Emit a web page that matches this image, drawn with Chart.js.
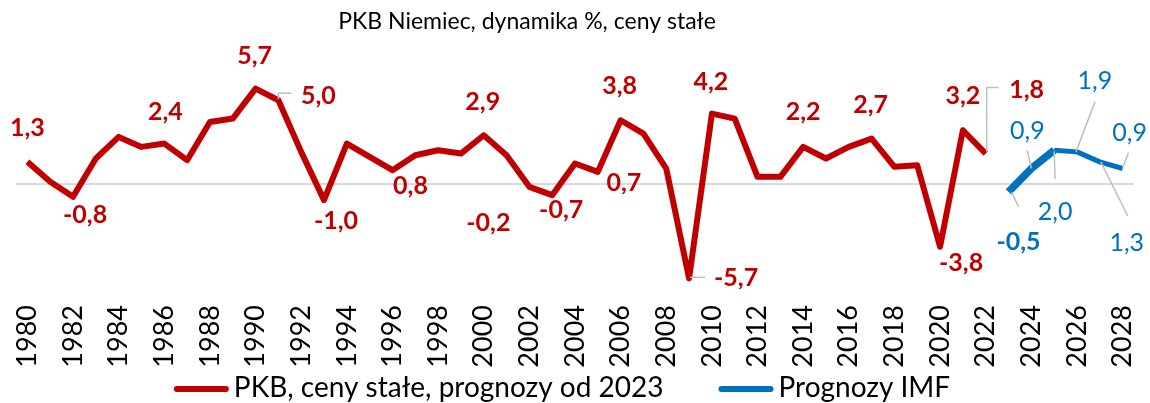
<!DOCTYPE html>
<html>
<head>
<meta charset="utf-8">
<script src="https://cdn.jsdelivr.net/npm/chart.js@4/dist/chart.umd.min.js"></script>
<style>
  html, body { margin: 0; padding: 0; background: #fff; }
  #wrap { width: 1150px; height: 403px; }
</style>
</head>
<body>
<div id="wrap"><canvas id="gdpChart"></canvas></div>
<script>
// years on the category axis
const years = [];
for (let y = 1980; y <= 2028; y++) years.push(String(y));

// PKB Niemiec 1980-2022, % r/r
const pkb = [1.3, 0.1, -0.8, 1.5, 2.8, 2.2, 2.4, 1.4, 3.7, 3.9,
             5.7, 5.0, 1.9, -1.0, 2.4, 1.6, 0.8, 1.7, 2.0, 1.8,
             2.9, 1.7, -0.2, -0.7, 1.2, 0.7, 3.8, 3.0, 0.9, -5.7,
             4.2, 3.9, 0.4, 0.4, 2.2, 1.5, 2.2, 2.7, 1.0, 1.1,
             -3.8, 3.2, 1.8];

// prognozy IMF 2023-2028
const imf = [-0.5, 0.9, 2.0, 1.9, 1.3, 0.9];

const chartTitle = 'PKB Niemiec, dynamika %, ceny stałe';
const seriesNames = ['PKB, ceny stałe, prognozy od 2023', 'Prognozy IMF'];

// which points get a value label, and where it sits relative to the point
const pkbLabels = [
  { i: 0, dx: 0, dy: -34 },
  { i: 2, dx: 12, dy: 18 },
  { i: 6, dx: 1, dy: -32 },
  { i: 10, dx: -1, dy: -33 },
  { i: 11, dx: 40, dy: -4, leader: [[0, -1], [0, -7], [13, -7]] },
  { i: 13, dx: 12, dy: 21 },
  { i: 16, dx: 18, dy: 16 },
  { i: 20, dx: -1, dy: -33 },
  { i: 22, dx: -41, dy: 36 },
  { i: 23, dx: 9, dy: 15 },
  { i: 25, dx: 26, dy: 11 },
  { i: 26, dx: -1, dy: -34 },
  { i: 29, dx: 47, dy: 0, leader: [[1, -1], [16, -1]] },
  { i: 30, dx: -1, dy: -32 },
  { i: 34, dx: 0, dy: -35 },
  { i: 37, dx: -1, dy: -34 },
  { i: 40, dx: 21, dy: 16 },
  { i: 41, dx: 0, dy: -34 },
  { i: 42, dx: 41, dy: -64, leader: [[1, -2], [1, -66], [13, -66]] }
];
const imfLabels = [
  { i: 43, dx: 10, dy: 50, bold: true, leader: [[3, 0], [10, 15]] },
  { i: 44, dx: -4, dy: -38, leader: [[0, 0], [-4, -18]] },
  { i: 45, dx: 1, dy: 62, leader: [[0, 1], [1, 29]] },
  { i: 46, dx: 18, dy: -71, leader: [[-1, 0], [18, -50]] },
  { i: 47, dx: 27, dy: 81, leader: [[1, 0], [28, 54]] },
  { i: 48, dx: 7, dy: -36, leader: [[0, -1], [6, -16]] }
];

const RED = '#C00000';
const BLUE = '#0070C0';
const FONT = 'Lato, "Open Sans", sans-serif';

const pkbSeries = pkb.concat(imf.map(() => null));
const imfSeries = pkb.map(() => null).concat(imf);

const fmt = v => v.toFixed(1).replace('.', ',');

const valueLabels = {
  id: 'valueLabels',
  afterDatasetsDraw(chart) {
    const ctx = chart.ctx;
    const groups = [
      { ds: 0, list: pkbLabels, color: RED, bold: true },
      { ds: 1, list: imfLabels, color: BLUE, bold: false }
    ];
    ctx.save();
    groups.forEach(g => {
      const meta = chart.getDatasetMeta(g.ds);
      const values = chart.data.datasets[g.ds].data;
      g.list.forEach(l => {
        const pt = meta.data[l.i];
        if (!pt) return;
        if (l.leader) {
          ctx.strokeStyle = '#BFBFBF';
          ctx.lineWidth = 1.5;
          ctx.beginPath();
          l.leader.forEach((p, k) => {
            const x = pt.x + p[0], y = pt.y + p[1];
            if (k === 0) ctx.moveTo(x, y); else ctx.lineTo(x, y);
          });
          ctx.stroke();
        }
        const bold = g.bold || l.bold;
        ctx.font = (bold ? 'bold ' : '') + '25px ' + FONT;
        ctx.fillStyle = g.color;
        ctx.textAlign = 'center';
        ctx.textBaseline = 'middle';
        ctx.fillText(fmt(values[l.i]), pt.x + l.dx, pt.y + l.dy);
      });
    });
    ctx.restore();
  }
};

// title and legend sit a little left of centre, like in the excel original
const titleAndLegend = {
  id: 'titleAndLegend',
  afterDraw(chart) {
    const ctx = chart.ctx;
    ctx.save();
    ctx.textBaseline = 'middle';
    ctx.fillStyle = '#000';
    ctx.font = '23px ' + FONT;
    ctx.textAlign = 'center';
    ctx.fillText(chartTitle, 527, 22);

    ctx.font = '28px ' + FONT;
    ctx.textAlign = 'left';
    const lineLen = 55, gap = 5, spacing = 55;
    const items = chart.data.datasets.map(ds => ({
      text: ds.label, color: ds.borderColor, w: ctx.measureText(ds.label).width
    }));
    let total = 0;
    items.forEach((it, k) => { total += lineLen + gap + it.w + (k ? spacing : 0); });
    let x = 562 - total / 2;
    const y = 388;
    items.forEach(it => {
      ctx.strokeStyle = it.color;
      ctx.lineWidth = 6;
      ctx.lineCap = 'round';
      ctx.beginPath();
      ctx.moveTo(x + 3, y + 1);
      ctx.lineTo(x + lineLen - 3, y + 1);
      ctx.stroke();
      ctx.fillStyle = '#000';
      ctx.fillText(it.text, x + lineLen + gap, y);
      x += lineLen + gap + it.w + spacing;
    });
    ctx.restore();
  }
};

new Chart(document.getElementById('gdpChart'), {
  type: 'line',
  data: {
    labels: years,
    datasets: [{
      label: seriesNames[0],
      data: pkbSeries,
      borderColor: RED,
      backgroundColor: RED,
      borderWidth: 6,
      borderJoinStyle: 'round',
      pointRadius: 0,
      tension: 0
    }, {
      label: seriesNames[1],
      data: imfSeries,
      borderColor: BLUE,
      backgroundColor: BLUE,
      borderWidth: 6,
      borderJoinStyle: 'round',
      pointRadius: 0,
      tension: 0,
      segment: {
        borderWidth: c => (c.p0DataIndex < 45 ? 7.5 : 5)
      }
    }]
  },
  options: {
    responsive: true,
    maintainAspectRatio: false,
    animation: false,
    layout: { padding: { left: 16, right: 16, top: 67, bottom: 33 } },
    scales: {
      x: {
        offset: true,
        grid: { display: false, drawTicks: false },
        border: { display: false },
        afterFit: s => { s.height = 70; s.paddingLeft = 0; s.paddingRight = 0; },
        ticks: {
          autoSkip: false,
          maxRotation: 90,
          minRotation: 90,
          padding: 5,
          color: '#000',
          font: { family: FONT, size: 27 },
          callback: function (val, idx) {
            return idx % 2 === 0 ? this.getLabelForValue(val) : '';
          }
        }
      },
      y: {
        min: -7,
        max: 7,
        ticks: { display: false, stepSize: 7 },
        border: { display: false },
        grid: {
          drawTicks: false,
          lineWidth: 2,
          color: c => (c.tick.value === 0 ? '#D9D9D9' : 'rgba(0,0,0,0)')
        }
      }
    },
    plugins: {
      title: { display: false },
      legend: { display: false },
      tooltip: { enabled: false }
    }
  },
  plugins: [valueLabels, titleAndLegend]
});
</script>
</body>
</html>
